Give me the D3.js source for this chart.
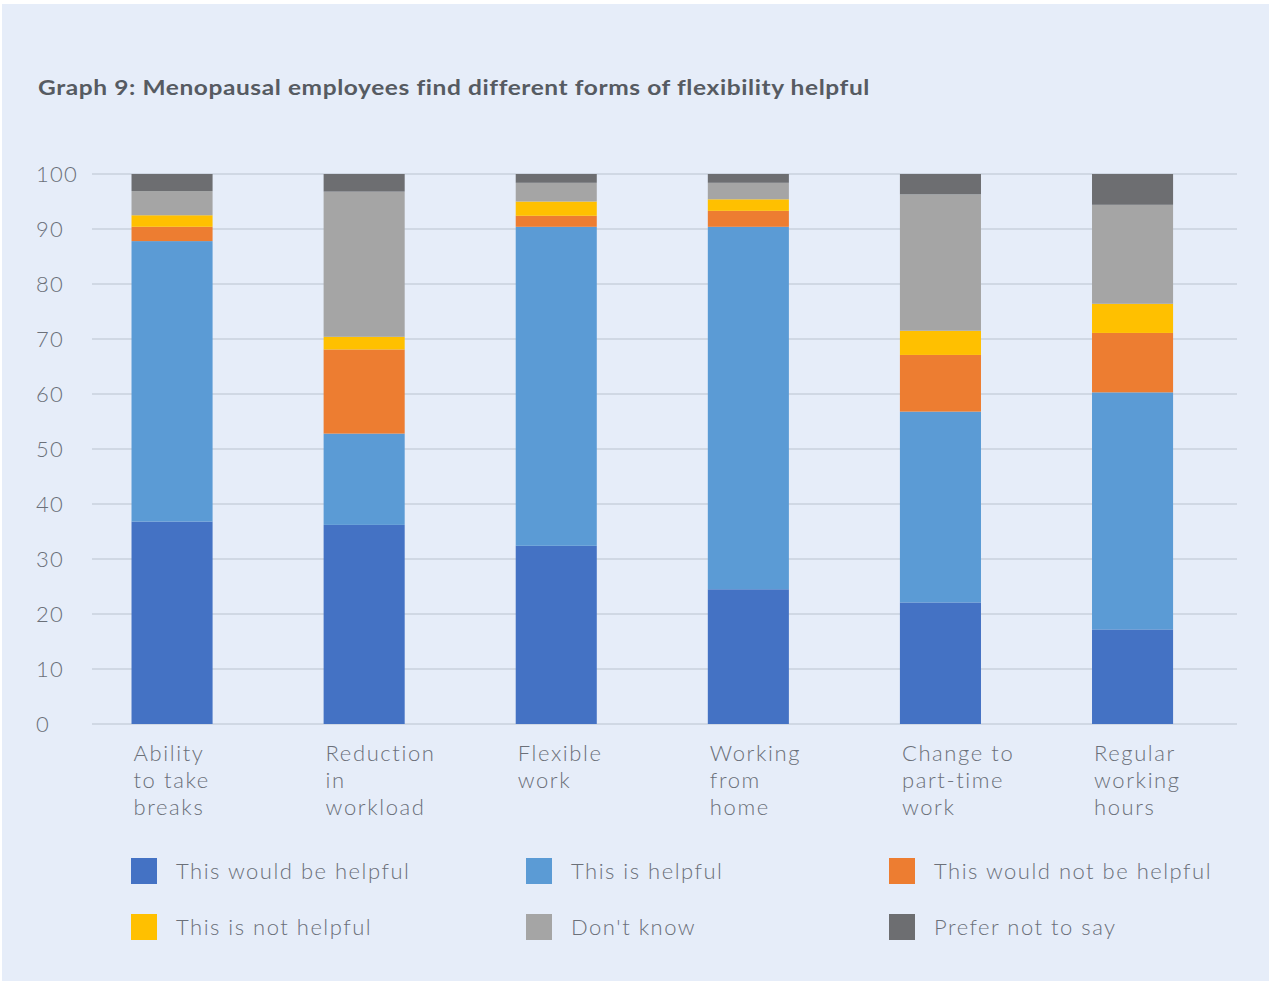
<!DOCTYPE html>
<html>
<head>
<meta charset="utf-8">
<script src="https://cdn.jsdelivr.net/npm/d3@7"></script>
<style>
  html, body { margin: 0; padding: 0; background: #ffffff; }
  svg { display: block; }
  text { font-family: Lato, "Open Sans", sans-serif; }
</style>
</head>
<body>
<svg id="chart" width="1269" height="981"></svg>
<script>
var categories = [
  ['Ability', 'to take', 'breaks'],
  ['Reduction', 'in', 'workload'],
  ['Flexible', 'work'],
  ['Working', 'from', 'home'],
  ['Change to', 'part-time', 'work'],
  ['Regular', 'working', 'hours']
];

var seriesNames = [
  'This would be helpful',
  'This is helpful',
  'This would not be helpful',
  'This is not helpful',
  "Don't know",
  'Prefer not to say'
];

// percent per category
var wouldBeHelpful = [36.8, 36.2, 32.4, 24.5, 22.1, 17.2];
var isHelpful = [51.0, 16.6, 58.0, 65.9, 34.7, 43.1];
var wouldNotBeHelpful = [2.6, 15.3, 2.0, 2.9, 10.3, 10.8];
var isNotHelpful = [2.1, 2.3, 2.6, 2.1, 4.4, 5.3];
var dontKnow = [4.4, 26.4, 3.4, 3.0, 24.8, 18.0];
var preferNotToSay = [3.1, 3.2, 1.6, 1.6, 3.7, 5.6];

var yTicks = [0, 10, 20, 30, 40, 50, 60, 70, 80, 90, 100];

var colors = ['#4472c4', '#5b9bd5', '#ed7d31', '#ffc000', '#a5a5a5', '#6d6e71'];

var seriesValues = [wouldBeHelpful, isHelpful, wouldNotBeHelpful, isNotHelpful, dontKnow, preferNotToSay];

var rows = categories.map(function (c, i) {
  var row = { idx: i };
  seriesNames.forEach(function (s, j) { row[s] = seriesValues[j][i]; });
  return row;
});

var svg = d3.select('#chart');

svg.append('rect')
  .attr('x', 2).attr('y', 4)
  .attr('width', 1267).attr('height', 977)
  .attr('fill', '#e6edf9');

// title is set in a wide geometric face in the original, so stretch it a bit
svg.append('text')
  .attr('x', 38).attr('y', 95)
  .attr('font-size', 21)
  .attr('font-weight', 700)
  .attr('fill', '#565b62')
  .attr('letter-spacing', 0.5)
  .attr('textLength', 832)
  .attr('lengthAdjust', 'spacingAndGlyphs')
  .text('Graph 9: Menopausal employees find different forms of flexibility helpful');

var x = d3.scaleBand()
  .domain(d3.range(categories.length))
  .range([76, 1228.6])
  .paddingInner(0.578)
  .paddingOuter(0.289);

var y = d3.scaleLinear().domain([0, 100]).range([724, 174]);

// grid lines
svg.append('g')
  .selectAll('line')
  .data(yTicks)
  .join('line')
  .attr('x1', 92).attr('x2', 1237)
  .attr('y1', function (d) { return y(d); })
  .attr('y2', function (d) { return y(d); })
  .attr('stroke', '#c8d1dd')
  .attr('stroke-width', 1.5);

// y axis labels
var yAxis = svg.append('g')
  .attr('transform', 'translate(36,0)')
  .call(d3.axisLeft(y).tickValues(yTicks).tickSize(0).tickPadding(0));
yAxis.select('.domain').remove();
yAxis.selectAll('text')
  .attr('text-anchor', 'start')
  .attr('x', 0)
  .attr('font-family', 'Lato, sans-serif')
  .attr('font-size', 22)
  .attr('font-weight', 300)
  .attr('letter-spacing', 1.2)
  .attr('fill', '#6b7079');

var stack = d3.stack().keys(seriesNames);
var layers = stack(rows);

svg.append('g')
  .selectAll('g')
  .data(layers)
  .join('g')
  .attr('fill', function (d, i) { return colors[i]; })
  .selectAll('rect')
  .data(function (d) { return d; })
  .join('rect')
  .attr('x', function (d) { return x(d.data.idx); })
  .attr('width', x.bandwidth())
  .attr('y', function (d) { return y(d[1]); })
  .attr('height', function (d) { return y(d[0]) - y(d[1]); });

// category labels
var catLabels = svg.append('g')
  .selectAll('text')
  .data(categories)
  .join('text')
  .attr('x', function (d, i) { return x(i) + 2; })
  .attr('y', 761)
  .attr('font-size', 22)
  .attr('font-weight', 300)
  .attr('letter-spacing', 1.6)
  .attr('fill', '#6b7079');
catLabels.selectAll('tspan')
  .data(function (d) { return d; })
  .join('tspan')
  .attr('x', function () { return d3.select(this.parentNode).attr('x'); })
  .attr('dy', function (d, i) { return i === 0 ? 0 : 27; })
  .text(function (d) { return d; });

// legend
var legendCols = [131, 526, 889];
var legendRows = [858, 914];
var legend = svg.append('g')
  .selectAll('g')
  .data(seriesNames)
  .join('g')
  .attr('transform', function (d, i) {
    return 'translate(' + legendCols[i % 3] + ',' + legendRows[Math.floor(i / 3)] + ')';
  });
legend.append('rect')
  .attr('width', 26).attr('height', 26)
  .attr('fill', function (d, i) { return colors[i]; });
legend.append('text')
  .attr('x', 45).attr('y', 21)
  .attr('font-size', 22)
  .attr('font-weight', 300)
  .attr('letter-spacing', 1.5)
  .attr('fill', '#6b7079')
  .text(function (d) { return d; });
</script>
</body>
</html>
